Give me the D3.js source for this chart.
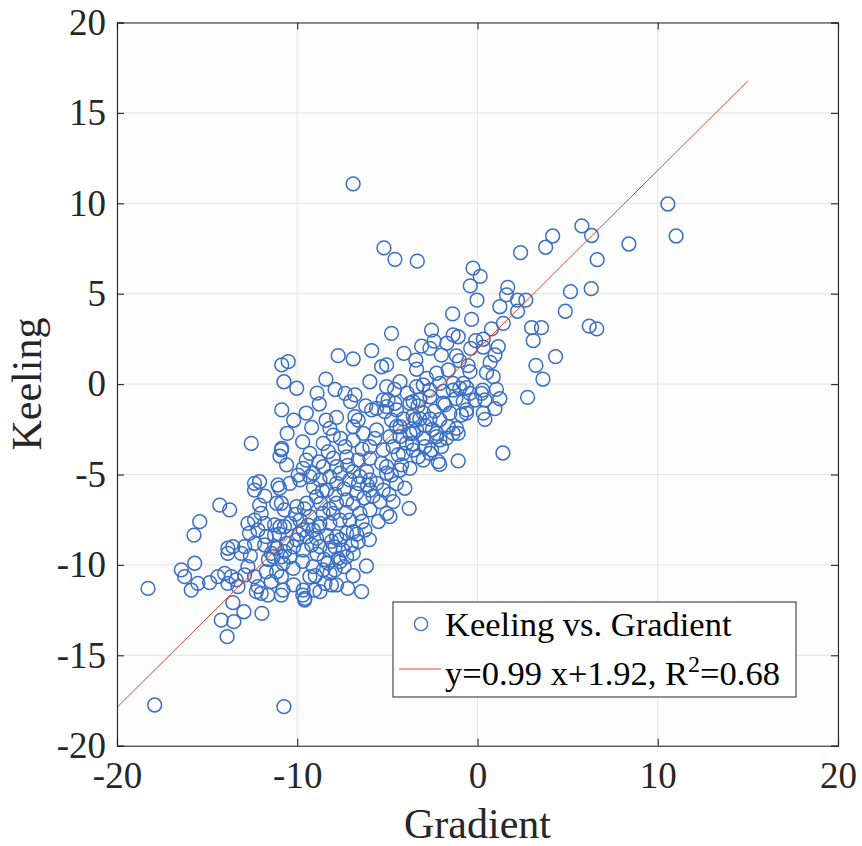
<!DOCTYPE html>
<html><head><meta charset="utf-8">
<script src="https://cdn.jsdelivr.net/npm/d3@7"></script>
<style>body{margin:0;background:#fff}</style>
</head><body>
<svg id="c" width="862" height="846"></svg>
<script>
const gradient = [
-6.9,-5.19,-4.58,-3.34,-0.25,0.15,-0.4,-0.03,10.56,11.02,5.79,6.33,4.17,3.78,2.39,8.4,6.64,6.31,5.16,4.87,
6.2,6.62,4.33,3.24,3.63,2.78,3.0,3.55,3.09,1.68,1.61,1.24,2.22,2.68,2.22,0.78,1.43,0.32,0.32,1.15,
0.97,0.5,0.87,1.05,0.28,1.24,0.97,0.41,0.32,1.41,-1.38,-0.33,-2.55,-1.35,-1.07,-2.41,-2.64,-1.7,-0.38,-4.08,
-4.77,-1.17,-3.42,-3.38,-4.3,-0.52,-0.42,-2.27,-1.62,-2.82,-3.01,-2.09,-1.35,-0.98,0.22,-4.58,-3.57,-2.64,-1.9,-0.79,
-0.14,-1.07,-2.09,0.41,-0.61,-0.89,-1.53,-1.62,-1.16,-1.35,-2.09,-2.0,-2.55,-2.92,-3.29,-4.21,-4.77,-4.03,-3.79,-4.68,
-4.86,-3.57,-3.2,-3.38,-3.0,-3.75,-4.12,-4.49,-4.3,-3.94,-4.68,-3.57,-2.64,-2.27,-1.81,-10.86,-10.5,-7.73,-6.9,-5.87,
-5.32,-5.04,-10.74,-10.03,-8.41,-5.97,-7.35,-7.04,-10.86,-8.78,-7.82,-10.56,-10.86,-10.96,-10.59,-9.3,-8.19,-8.0,-8.56,-8.28,
-6.8,-6.62,-6.89,-6.34,-5.87,-5.6,-5.23,-4.96,-5.14,-4.77,-5.6,-4.86,-5.97,-5.23,-7.35,-7.26,-6.62,-5.97,-5.32,-7.82,
-8.56,-9.67,-9.11,-9.95,-6.89,-6.15,-12.55,-10.88,-12.37,-12.09,-12.37,-11.07,-10.98,-10.88,-14.3,-13.75,-12.09,-12.0,-10.71,-15.41,
-15.73,-12.74,-12.37,-11.81,-11.26,-10.71,-12.65,-12.18,-11.72,-11.26,-12.92,-12.37,-11.81,-13.85,-13.57,-13.85,-11.26,-10.71,-11.44,-10.88,
-15.69,-16.43,-16.25,-15.51,-15.88,-14.86,-14.4,-14.03,-13.66,-13.39,-13.85,-13.29,-12.92,-12.37,-12.18,-11.72,-11.44,-10.88,-10.79,-12.0,
-18.28,-12.74,-13.11,-13.57,-12.96,-14.22,-13.52,-13.89,-11.96,-12.27,-11.63,-10.89,-9.69,-9.59,-9.04,-17.91,-10.74,-6.16,-6.43,-7.82,
-8.1,-8.46,-8.74,-9.67,-9.58,-7.73,-7.63,-8.19,-7.91,-8.56,-9.11,-9.3,-10.22,-10.78,-11.14,-9.67,-8.74,-8.19,-7.45,-6.62,
-6.25,-6.89,-7.26,-7.82,-8.37,-8.93,-9.48,-10.03,-10.59,-11.14,-11.33,-10.41,-8.74,-8.19,-7.63,-7.08,-6.52,-5.97,-5.41,-5.04,
-5.97,-5.6,-5.04,-6.71,-7.26,-7.82,-7.08,-7.82,-8.37,-8.93,-9.48,-10.03,-11.14,-10.41,-9.85,-9.3,-8.74,-8.19,-7.63,-6.52,
-8.56,-8.0,-9.3,-9.85,-10.41,-10.96,-9.67,-9.11,-6.89,-7.26,-5.97,-5.23,-5.04,-3.38,-2.64,-1.35,-0.79,-0.42,-0.61,-2.09,
-1.07,-1.72,-2.27,-3.01,-3.57,-4.3,-5.04,-4.49,-3.75,-3.2,-3.47,-4.12,-2.64,-2.18,-3.01,-5.04,-4.3,-3.75,
-9.2,-8.9,-8.5,-8.1,-7.9,-7.6,-8.8,-9.4,-9.9,-10.2,-9.0,-8.3,-7.4,-7.0,-6.7,-6.4,-7.3,-8.2,-8.7,-9.6,
-10.1,-9.1,-8.6,-7.9,-7.4,-6.9,-6.3,-5.8,-6.1,-6.6,-7.2,-8.0,-8.8,-9.5,-6.4,-6.9,-7.6,-8.4,-9.2,-9.7,
-10.2,-9.5,-6.2,-6.8,-7.9,-8.9,-4.5,-4.9,-5.5,-6.0,-6.9,-5.7,-4.4,-3.6,-2.9,-2.4,-1.9,-1.2,-0.6,-2.5,
-3.3,-3.9,-4.6,-1.0,-2.0,-3.1,-0.1,0.7,-11.8,-11.6,-10.2,-12.6,-11.0,-9.7,-7.2
];
const keeling = [
11.07,7.53,6.9,6.8,6.41,5.96,5.43,4.65,9.96,8.19,8.75,8.22,8.19,7.57,7.27,7.75,6.88,5.28,5.11,4.03,
3.21,3.05,1.52,1.04,0.27,-0.73,3.12,3.12,2.4,5.35,4.94,4.28,4.65,4.65,4.03,3.05,3.36,2.48,2.04,2.07,
1.61,0.63,0.41,-0.29,-0.33,-0.81,-1.36,-0.88,-1.61,-3.81,3.88,3.58,2.99,2.72,2.62,2.38,1.98,2.26,1.98,1.7,
2.81,1.56,1.33,0.82,0.13,1.02,0.69,0.6,0.78,0.32,-0.05,0.04,0.04,-0.23,-0.51,-1.06,-0.97,-0.7,-1.06,-0.97,
-0.88,-4.25,-4.44,-1.95,-1.61,-1.71,-1.61,-2.36,-2.45,-2.72,-3.09,-3.46,-3.64,-3.46,-4.02,-4.47,-5.03,-5.76,-6.87,-6.5,
-7.33,-1.74,-1.93,-2.54,-1.61,-2.72,-1.93,-2.36,-2.91,-3.27,-3.46,-3.65,-1.93,-2.72,-1.15,1.06,1.24,1.57,1.39,1.85,
0.96,1.06,0.13,-0.23,0.27,0.13,-0.51,-0.97,-1.43,-1.1,-1.84,-2.72,-3.55,-3.98,-4.47,-3.83,-2.45,-2.82,-3.28,-3.74,
-1.8,-1.99,-2.36,-2.72,-1.43,-1.34,-0.88,-0.88,-1.52,-1.99,-2.54,-2.91,-3.46,-3.64,-3.46,-4.02,-4.2,-4.11,-4.38,-4.57,
-4.57,-4.66,-4.93,-5.03,-4.84,-4.84,-3.28,-3.64,-5.86,-5.4,-5.49,-5.58,-5.76,-6.59,-6.69,-6.96,-6.69,-7.15,-6.96,-7.61,
-8.35,-7.7,-7.52,-7.7,-7.79,-7.89,-8.25,-8.07,-8.44,-8.35,-8.99,-8.81,-8.9,-9.08,-8.99,-9.36,-8.99,-9.27,-9.36,-9.55,
-9.91,-10.28,-10.65,-11.02,-11.39,-10.98,-10.65,-10.47,-10.65,-10.83,-11.02,-11.2,-10.56,-10.65,-11.2,-10.38,-10.93,-10.65,-11.39,-11.57,
-11.3,-10.1,-9.36,-12.09,-12.59,-13.05,-13.14,-13.97,-12.68,-11.48,-11.67,-11.67,-11.67,-11.94,-11.39,-17.75,-17.84,-10.06,-11.48,-11.11,
-11.11,-11.02,-11.48,-11.39,-11.85,-9.64,-9.82,-10.47,-10.28,-10.28,-10.1,-10.65,-10.19,-9.91,-10.38,-9.18,-8.99,-9.18,-9.18,-8.72,
-8.07,-8.16,-8.25,-8.44,-8.35,-8.53,-8.44,-8.62,-8.81,-9.08,-9.55,-9.55,-7.7,-7.7,-7.52,-7.52,-7.15,-6.96,-6.5,-7.15,
-5.86,-5.49,-4.93,-6.04,-6.41,-6.59,-5.3,-5.49,-5.86,-6.23,-6.59,-6.78,-6.59,-5.49,-5.3,-5.12,-5.3,-5.12,-4.93,-5.12,
-7.15,-7.15,-7.33,-7.52,-7.7,-7.89,-8.07,-8.07,-9.36,-9.55,-5.3,-5.86,-0.14,-0.14,-0.33,-0.33,0.04,-0.51,-1.43,-1.97,
-2.72,-2.99,-2.91,-2.99,-2.72,-2.36,-1.25,-1.43,-1.06,-0.88,-1.97,-3.83,-3.83,-4.29,-4.2,-4.57,-4.75,-4.66,
-8.9,-9.4,-9.7,-8.7,-9.0,-8.6,-7.9,-7.8,-8.3,-9.0,-10.6,-9.9,-10.1,-8.9,-8.3,-7.6,-7.1,-6.9,-6.6,-6.9,
-7.2,-5.7,-5.9,-6.1,-5.8,-6.6,-6.3,-6.2,-5.6,-5.5,-4.5,-4.1,-4.3,-4.2,-3.6,-3.1,-3.0,-2.0,-2.4,-3.2,
-2.0,-1.6,-1.2,-0.6,-0.3,-0.5,-5.5,-6.1,-7.6,-8.6,-10.6,-3.0,-3.9,-3.3,-2.3,-1.5,-0.4,-0.8,-0.2,-2.5,
-1.2,-0.5,-0.3,1.3,1.6,2.1,2.4,1.2,-6.2,-9.7,-11.1,-9.5,-8.3,-9.8,-11.3
];
const xTicks = [-20, -10, 0, 10, 20];
const yTicks = [-20, -15, -10, -5, 0, 5, 10, 15, 20];
const fitSlope = 0.99, fitIntercept = 1.92;
const fitRange = [-20, 15];
const legendLabels = ["Keeling vs. Gradient", "y=0.99 x+1.92, R", "2", "=0.68"];

const svg = d3.select("#c");
const W = 862, H = 846;
const L = 117, R = 838, T = 22.5, B = 745.7;
const x = d3.scaleLinear().domain([-20, 20]).range([L, R]);
const y = d3.scaleLinear().domain([-20, 20]).range([B, T]);
const font = "'Liberation Serif','Times New Roman',serif";
const ink = "#262626";
const blue = "#3a6fc6";
const red = "#e0482c";

svg.append("rect").attr("width", W).attr("height", H).attr("fill", "#fff");
svg.append("rect").attr("x", L).attr("y", T).attr("width", R - L).attr("height", B - T).attr("fill", "#fdfdfd");

// grid
const g = svg.append("g");
g.selectAll("line.gx").data(xTicks).join("line")
  .attr("class","gx")
  .attr("x1", d => x(d)).attr("x2", d => x(d)).attr("y1", T).attr("y2", B)
  .attr("stroke", "#e3e3e3").attr("stroke-width", 1);
g.selectAll("line.gy").data(yTicks).join("line")
  .attr("class","gy")
  .attr("y1", d => y(d)).attr("y2", d => y(d)).attr("x1", L).attr("x2", R)
  .attr("stroke", "#e3e3e3").attr("stroke-width", 1);

// points
const pts = gradient.map((v, i) => [v, keeling[i]]);
svg.append("g").selectAll("circle").data(pts).join("circle")
  .attr("cx", d => x(d[0])).attr("cy", d => y(d[1])).attr("r", 6.9)
  .attr("fill", "none").attr("stroke", blue).attr("stroke-width", 1.5);

// fit line
svg.append("line")
  .attr("x1", x(fitRange[0])).attr("y1", y(fitSlope * fitRange[0] + fitIntercept))
  .attr("x2", x(fitRange[1])).attr("y2", y(fitSlope * fitRange[1] + fitIntercept))
  .attr("stroke", red).attr("stroke-width", 1);

// axes
const xAxB = d3.axisBottom(x).tickValues(xTicks).tickSize(-7).tickPadding(16).tickFormat(d3.format("d"));
const xAxT = d3.axisTop(x).tickValues(xTicks).tickSize(-7).tickFormat("");
const yAxL = d3.axisLeft(y).tickValues(yTicks).tickSize(-7).tickPadding(11).tickFormat(d3.format("d"));
const yAxR = d3.axisRight(y).tickValues(yTicks).tickSize(-7).tickFormat("");
function style(sel) {
  sel.selectAll("path").attr("stroke", ink).attr("stroke-width", 1.1);
  sel.selectAll("line").attr("stroke", ink).attr("stroke-width", 1.1);
  sel.selectAll("text").attr("fill", ink).style("font-family", font).style("font-size", "37px");
}
svg.append("g").attr("transform", `translate(0,${B})`).call(xAxB).call(style);
svg.append("g").attr("transform", `translate(0,${T})`).call(xAxT).call(style);
svg.append("g").attr("transform", `translate(${L},0)`).call(yAxL).call(style);
svg.append("g").attr("transform", `translate(${R},0)`).call(yAxR).call(style);
svg.selectAll(".tick text").text(function(){ return this.textContent.replace("\u2212", "-"); });

// axis labels
svg.append("text").attr("x", (L + R) / 2).attr("y", 838).attr("text-anchor", "middle")
  .attr("fill", ink).style("font-family", font).style("font-size", "42px").text("Gradient");
svg.append("text").attr("transform", `translate(41,${(T + B) / 2}) rotate(-90)`).attr("text-anchor", "middle")
  .attr("fill", ink).style("font-family", font).style("font-size", "42px").text("Keeling");

// legend
const lg = svg.append("g");
lg.append("rect").attr("x", 393).attr("y", 602).attr("width", 403).attr("height", 95)
  .attr("fill", "#fff").attr("stroke", ink).attr("stroke-width", 1);
lg.append("circle").attr("cx", 421).attr("cy", 624).attr("r", 6.6)
  .attr("fill", "none").attr("stroke", blue).attr("stroke-width", 1.4);
lg.append("line").attr("x1", 399).attr("x2", 441).attr("y1", 669).attr("y2", 669)
  .attr("stroke", red).attr("stroke-width", 1);
lg.append("text").attr("x", 445).attr("y", 636).attr("fill", "#000")
  .style("font-family", font).style("font-size", "34.5px").text(legendLabels[0]);
const t2 = lg.append("text").attr("x", 445).attr("y", 685).attr("fill", "#000")
  .style("font-family", font).style("font-size", "34.5px");
t2.append("tspan").text(legendLabels[1]);
t2.append("tspan").attr("dy", -13).style("font-size", "24px").text(legendLabels[2]);
t2.append("tspan").attr("dy", 13).text(legendLabels[3]);
</script>
</body></html>
